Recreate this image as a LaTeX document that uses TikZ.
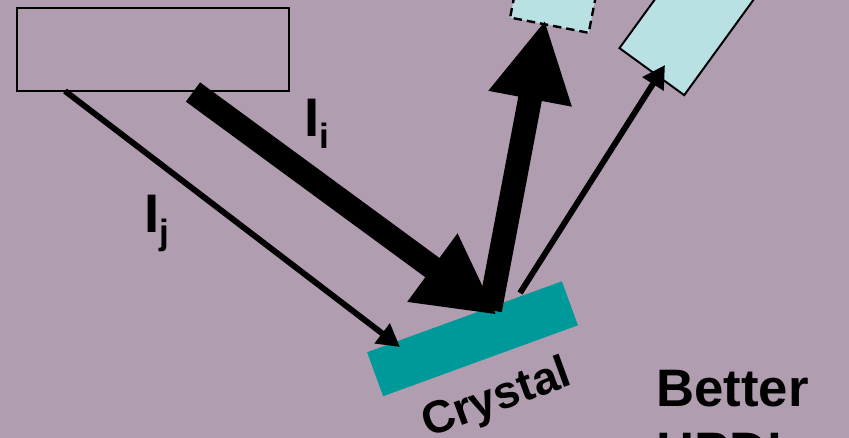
\documentclass[tikz,border=0pt]{standalone}
\usepackage{fontspec}
\setmainfont{Liberation Sans}
\usetikzlibrary{arrows.meta,positioning}
\definecolor{bgmauve}{RGB}{177,157,176}
\definecolor{detcyan}{RGB}{185,224,227}
\definecolor{crysteal}{RGB}{0,153,153}
\tikzset{
  detbox/.style={draw,fill=detcyan,line width=1.4pt,minimum width=2cm,inner sep=0pt},
  thickarr/.style={-{Triangle[length=57pt,width=56pt]},line width=17pt},
  thinarr/.style={-{Triangle[length=16pt,width=17pt]},line width=4.2pt},
  lbl/.style={font=\bfseries,inner sep=0pt},
}
\begin{document}
\begin{tikzpicture}[x=0.025cm,y=-0.025cm]
\useasboundingbox (0,0) rectangle (849,438);
\fill[bgmauve] (0,0) rectangle (849,438);
\clip (0,0) rectangle (849,438);
% source, detectors and crystal
\node[draw,line width=1.4pt,minimum width=6.8cm,minimum height=2.075cm,inner sep=0pt] (source) at (153,49.5) {};
\node[detbox,line width=1.7pt,dash pattern=on 6pt off 3.5pt,minimum height=2.25cm,rotate=-11] (det1) at (558,-19) {};
\node[detbox,minimum height=3.5cm,rotate=-36] (det2) at (693,15) {};
\node[fill=crysteal,minimum width=5.18cm,minimum height=1.17cm,inner sep=0pt,rotate=20] (crystal) at (472.5,338.75) {};
\node[lbl,font=\bfseries\fontsize{32.5}{32.5}\selectfont,rotate=20] (ctext) at (497,400) {Crystal};
% beams
\coordinate (jtail) at (65,91);
\coordinate (jhit) at (400,347);
\coordinate (itail) at (193,92);
\coordinate (ihit) at (497,315);
\coordinate (rtail) at (490,310);
\coordinate (rtip) at (545,20);
\coordinate (stail) at (520,293);
\coordinate (stip) at (665,65);
\draw[thinarr] (jtail) -- (jhit);
\draw[thickarr] (rtail) -- (rtip);
\draw[thickarr] (itail) -- (ihit);
\draw[thinarr] (stail) -- (stip);
% labels
\node[lbl,font=\bfseries\fontsize{38.6}{38.6}\selectfont,anchor=base west] (labi) at (304.5,137) {I\raisebox{-8.5pt}{\fontsize{25}{25}\selectfont i}};
\node[lbl,font=\bfseries\fontsize{38.6}{38.6}\selectfont,anchor=base west] (labj) at (144.5,233) {I\raisebox{-8.5pt}{\fontsize{25}{25}\selectfont j}};
\node[lbl,font=\bfseries\fontsize{37.5}{45}\selectfont,align=left,anchor=north west] (better) at (656,370) {Better\\HPD's};
\end{tikzpicture}
\end{document}
